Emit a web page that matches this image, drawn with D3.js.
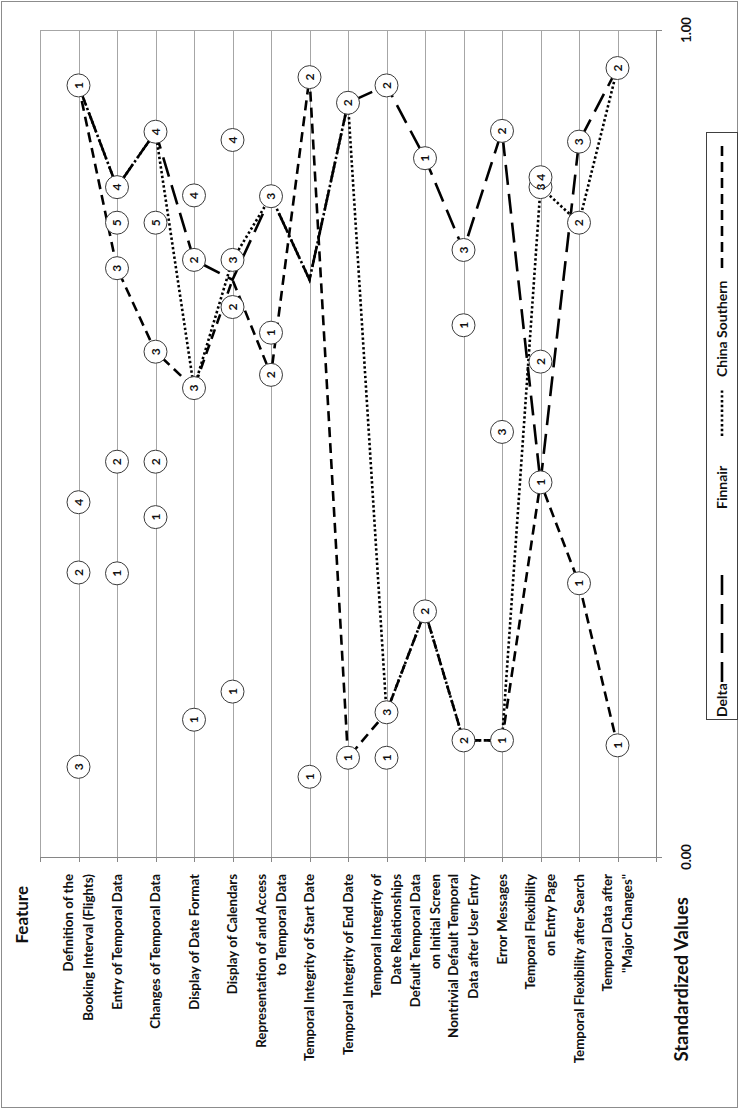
<!DOCTYPE html>
<html>
<head>
<meta charset="utf-8">
<script src="https://cdn.jsdelivr.net/npm/d3@7"></script>
<style>
  body { margin: 0; background: #fff; }
  svg { display: block; }
  text { font-family: Lato, "Open Sans", sans-serif; font-weight: 700; fill: #111; }
</style>
</head>
<body>
<svg id="chart" width="739" height="1109"></svg>
<script>
// Feature names (one entry per category, split into display lines)
const features = [
  ["Definition of the", "Booking Interval (Flights)"],
  ["Entry of Temporal Data"],
  ["Changes of Temporal Data"],
  ["Display of Date Format"],
  ["Display of Calendars"],
  ["Representation of and Access", "to Temporal Data"],
  ["Temporal Integrity of Start Date"],
  ["Temporal Integrity of End Date"],
  ["Temporal Integrity of", "Date Relationships"],
  ["Default Temporal Data", "on Initial Screen"],
  ["Nontrivial Default Temporal", "Data after User Entry"],
  ["Error Messages"],
  ["Temporal Flexibility", "on Entry Page"],
  ["Temporal Flexibility after Search"],
  ["Temporal Data after", "\"Major Changes\""]
];

// Standardized value of each airline per feature
const delta         = [0.933, 0.810, 0.877, 0.722, 0.698, 0.799, 0.698, 0.912, 0.933, 0.845, 0.734, 0.878, 0.453, 0.865, 0.954];
const finnair       = [0.933, 0.810, 0.877, 0.567, 0.722, 0.799, 0.698, 0.912, 0.175, 0.297, 0.141, 0.141, 0.810, 0.767, 0.954];
const chinaSouthern = [0.933, 0.712, 0.611, 0.567, 0.698, 0.583, 0.943, 0.120, 0.175, 0.297, 0.141, 0.141, 0.453, 0.331, 0.135];

// Design alternatives per feature: numbered label and standardized value
const optionLabels = [
  [1, 4, 2, 3],
  [4, 5, 3, 2, 1],
  [4, 5, 3, 2, 1],
  [4, 2, 3, 1],
  [4, 3, 2, 1],
  [3, 1, 2],
  [2, 1],
  [2, 1],
  [2, 3, 1],
  [1, 2],
  [3, 1, 2],
  [2, 3, 1],
  [3, 4, 2, 1],
  [3, 2, 1],
  [2, 1]
];
const optionValues = [
  [0.933, 0.429, 0.344, 0.109],
  [0.810, 0.767, 0.712, 0.478, 0.343],
  [0.877, 0.767, 0.611, 0.478, 0.411],
  [0.800, 0.722, 0.567, 0.166],
  [0.867, 0.722, 0.665, 0.200],
  [0.799, 0.634, 0.583],
  [0.943, 0.097],
  [0.912, 0.120],
  [0.933, 0.175, 0.120],
  [0.845, 0.297],
  [0.734, 0.643, 0.141],
  [0.878, 0.514, 0.141],
  [0.810, 0.822, 0.599, 0.453],
  [0.865, 0.767, 0.331],
  [0.954, 0.135]
];

const valueTicks = [0, 1];
const airlines = [
  { name: "China Southern", values: chinaSouthern, dash: "10,6" },
  { name: "Finnair",        values: finnair,       dash: "2.4,2.4" },
  { name: "Delta",          values: delta,         dash: "20,9" }
];

const svg = d3.select("#chart");

// Chart frame
svg.append("rect")
  .attr("x", 1.5).attr("y", 1.5).attr("width", 736).attr("height", 1106)
  .attr("fill", "#fff").attr("stroke", "#8c8c8c").attr("stroke-width", 1);

// Feature positions run left to right, values bottom (0) to top (1)
const x = d3.scaleLinear().domain([0, features.length + 1]).range([40, 656]);
const y = d3.scaleLinear().domain([0, 1]).range([857, 30]);

// Vertical gridlines at every feature position plus both ends
const g = svg.append("g");
g.selectAll("line.grid")
  .data(d3.range(0, features.length + 2))
  .join("line")
  .attr("class", "grid")
  .attr("x1", d => Math.round(x(d)) + 0.5).attr("x2", d => Math.round(x(d)) + 0.5)
  .attr("y1", y(1)).attr("y2", y(0))
  .attr("stroke", "#a6a6a6").attr("stroke-width", 1);

// Horizontal lines at 0 and 1
g.selectAll("line.hgrid")
  .data(valueTicks)
  .join("line")
  .attr("class", "hgrid")
  .attr("x1", x(0)).attr("x2", x(features.length + 1))
  .attr("y1", d => Math.round(y(d)) + 0.5).attr("y2", d => Math.round(y(d)) + 0.5)
  .attr("stroke", d => d === 0 ? "#868686" : "#a6a6a6").attr("stroke-width", 1);

// Feature axis ticks (bottom)
g.selectAll("line.ftick")
  .data(d3.range(0, features.length + 2))
  .join("line")
  .attr("class", "ftick")
  .attr("x1", d => Math.round(x(d)) + 0.5).attr("x2", d => Math.round(x(d)) + 0.5)
  .attr("y1", y(0)).attr("y2", y(0) + 5)
  .attr("stroke", "#868686");

// Value axis on the right side
const right = x(features.length + 1);
g.append("line")
  .attr("x1", Math.round(right) + 0.5).attr("x2", Math.round(right) + 0.5)
  .attr("y1", y(1)).attr("y2", y(0))
  .attr("stroke", "#868686");
g.selectAll("line.vtick")
  .data(valueTicks)
  .join("line")
  .attr("class", "vtick")
  .attr("x1", right).attr("x2", right + 6)
  .attr("y1", d => Math.round(y(d)) + 0.5).attr("y2", d => Math.round(y(d)) + 0.5)
  .attr("stroke", "#868686");
g.selectAll("text.vlabel")
  .data(valueTicks)
  .join("text")
  .attr("class", "vlabel")
  .attr("transform", d => `translate(686,${y(d)}) rotate(-90)`)
  .attr("text-anchor", "middle")
  .attr("dy", "0.35em")
  .style("font-size", "13px")
  .text(d => d3.format(".2f")(d));

// Feature labels, rotated, aligned at the top
features.forEach((lines, i) => {
  const cx = x(i + 1);
  const n = lines.length;
  lines.forEach((t, j) => {
    const off = (j - (n - 1) / 2) * 20;
    svg.append("text")
      .attr("transform", `translate(${cx + off},874) rotate(-90)`)
      .attr("text-anchor", "end")
      .attr("dy", "0.35em")
      .style("font-size", "13.3px")
      .text(t);
  });
});

// Axis titles
svg.append("text")
  .attr("transform", "translate(22,886) rotate(-90)")
  .attr("text-anchor", "end").attr("dy", "0.35em")
  .style("font-size", "17px")
  .text("Feature");
svg.append("text")
  .attr("transform", "translate(682,897) rotate(-90)")
  .attr("text-anchor", "end").attr("dy", "0.35em")
  .style("font-size", "18.5px")
  .text("Standardized Values");

// Airline lines
const line = d3.line().x((d, i) => x(i + 1)).y(d => y(d));
svg.append("g").selectAll("path")
  .data(airlines)
  .join("path")
  .attr("d", d => line(d.values))
  .attr("fill", "none")
  .attr("stroke", "#000")
  .attr("stroke-width", 2.6)
  .attr("stroke-dasharray", d => d.dash);

// Numbered alternatives: all circles first, then all numbers on top
const opts = [];
optionValues.forEach((vals, i) => vals.forEach((v, k) => opts.push({ i, v, label: optionLabels[i][k] })));
opts.sort((a, b) => (a.i - b.i) || (a.v - b.v));
svg.append("g").selectAll("circle")
  .data(opts)
  .join("circle")
  .attr("cx", d => x(d.i + 1)).attr("cy", d => y(d.v))
  .attr("r", 11.5).attr("fill", "#fff").attr("stroke", "#3a3a3a").attr("stroke-width", 1);
svg.append("g").selectAll("text")
  .data(opts)
  .join("text")
  .attr("transform", d => `translate(${x(d.i + 1)},${y(d.v)}) rotate(-90)`)
  .attr("text-anchor", "middle").attr("dy", "0.36em")
  .style("font-size", "12px")
  .text(d => d.label);

// Legend
const lg = svg.append("g");
lg.append("rect")
  .attr("x", 706.5).attr("y", 132.5).attr("width", 31).attr("height", 587)
  .attr("fill", "#fff").attr("stroke", "#404040");
const legendItems = [
  { name: "Delta", textStart: 717, lineFrom: 682, lineTo: 573, dash: "20,9" },
  { name: "Finnair", textStart: 509, lineFrom: 436, lineTo: 390, dash: "2.4,2.4" },
  { name: "China Southern", textStart: 377, lineFrom: 268, lineTo: 143, dash: "10,6" }
];
legendItems.forEach(it => {
  lg.append("text")
    .attr("transform", `translate(722,${it.textStart}) rotate(-90)`)
    .attr("text-anchor", "start").attr("dy", "0.35em")
    .style("font-size", "14px")
    .text(it.name);
  lg.append("line")
    .attr("x1", 722).attr("x2", 722)
    .attr("y1", it.lineFrom).attr("y2", it.lineTo)
    .attr("stroke", "#000").attr("stroke-width", 2.6)
    .attr("stroke-dasharray", it.dash);
});
</script>
</body>
</html>
